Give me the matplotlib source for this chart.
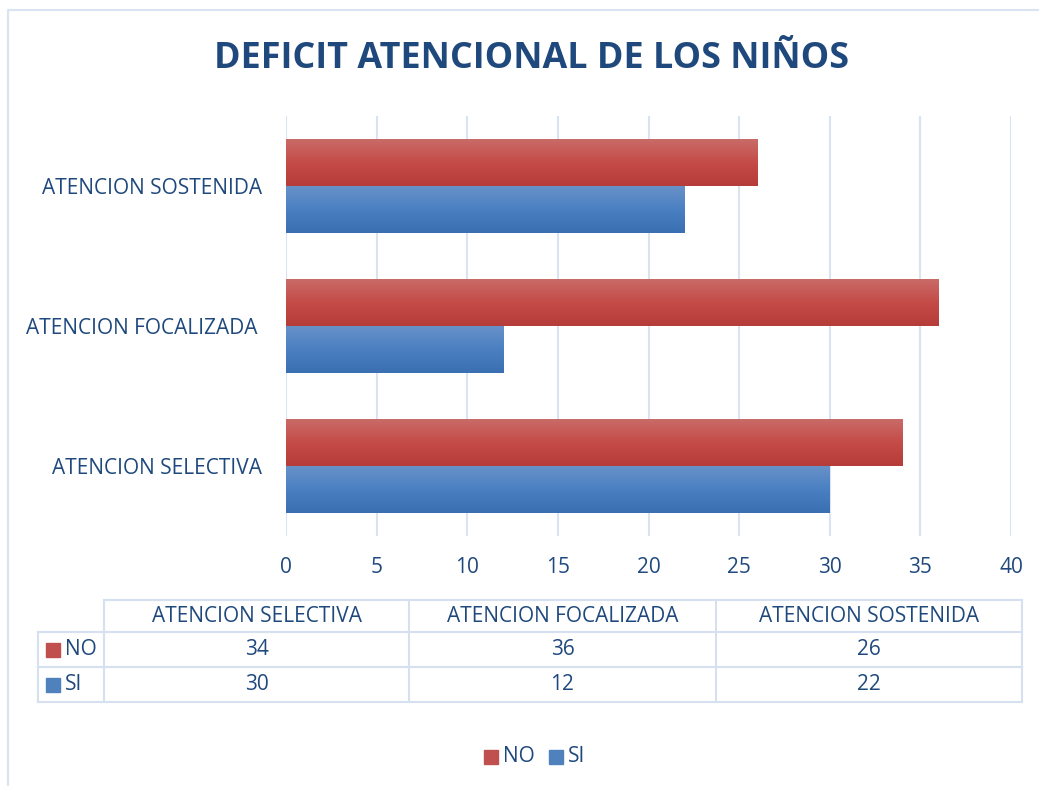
import numpy as np
import matplotlib
matplotlib.use('Agg')
import matplotlib.pyplot as plt
from matplotlib.patches import Rectangle
from matplotlib.lines import Line2D
from matplotlib.colors import LinearSegmentedColormap

# data
categories = ['ATENCION SELECTIVA', 'ATENCION FOCALIZADA', 'ATENCION SOSTENIDA']
ytick_labels = ['ATENCION SELECTIVA', 'ATENCION FOCALIZADA ', 'ATENCION SOSTENIDA']
series_names = ['NO', 'SI']
no_vals = [34, 36, 26]
si_vals = [30, 12, 22]
xticks = [0, 5, 10, 15, 20, 25, 30, 35, 40]
title = 'DEFICIT ATENCIONAL DE LOS NIÑOS'

W, H = 1039, 786
TXT = '#1F497D'
GRID = '#D9E4F3'
RED = '#C0504D'
BLUE = '#4F81BD'
FS = 15

plt.rcParams['font.family'] = ['Open Sans', 'DejaVu Sans']

fig = plt.figure(figsize=(W / 100, H / 100), dpi=100)


def fx(px):
    return px / W


def fy(py):
    return 1 - py / H


# outer frame (left and top edges only visible)
fig.add_artist(Line2D([fx(8), fx(8), fx(1039)], [fy(786), fy(10), fy(10)],
                      transform=fig.transFigure, color=GRID, lw=1.5))

fig.text(fx(531), fy(59), title, ha='center', va='center', fontsize=25.8,
         fontweight='bold', color=TXT)

ax = fig.add_axes([fx(286), fy(536), fx(1011) - fx(286), fy(116) - fy(536)])
y = np.arange(len(categories))
h = 0.335
bars_no = ax.barh(y + h / 2, no_vals, h, color=RED)
bars_si = ax.barh(y - h / 2, si_vals, h, color=BLUE)

# vertical gradient on the bars
red_cm = LinearSegmentedColormap.from_list('r', ['#B63C3A', '#C44B48', '#C96B68'])
blue_cm = LinearSegmentedColormap.from_list('b', ['#3A6FB1', '#4A80C2', '#6891C8'])
grad = np.linspace(0, 1, 100).reshape(-1, 1)
for bars, cm in ((bars_no, red_cm), (bars_si, blue_cm)):
    for b in bars:
        x0, y0 = b.get_x(), b.get_y()
        im = ax.imshow(grad, cmap=cm, origin='lower', aspect='auto',
                       extent=[x0, x0 + b.get_width(), y0, y0 + b.get_height()],
                       zorder=b.get_zorder(), interpolation='bilinear')
        im.set_clip_path(b)
        b.set_facecolor('none')

ax.set_xlim(0, 40)
ax.set_ylim(-0.5, 2.5)
ax.set_xticks(xticks)
ax.set_xticklabels([str(t) for t in xticks])
ax.set_yticks(y)
ax.set_yticklabels(ytick_labels)
ax.grid(axis='x', color=GRID, lw=1.5)
ax.set_axisbelow(True)
for s in ax.spines.values():
    s.set_visible(False)
ax.tick_params(axis='both', length=0, labelsize=FS, labelcolor=TXT)
ax.tick_params(axis='x', pad=15)
ax.tick_params(axis='y', pad=17)

# data table under the chart
col_x = [104, 409, 716, 1022]
row_y = [600, 632, 667, 702]
label_x = 38
TB = '#D5E1F1'


def hline(py, x0, x1):
    fig.add_artist(Line2D([fx(x0), fx(x1)], [fy(py), fy(py)],
                          transform=fig.transFigure, color=TB, lw=1.5))


def vline(px, y0, y1):
    fig.add_artist(Line2D([fx(px), fx(px)], [fy(y0), fy(y1)],
                          transform=fig.transFigure, color=TB, lw=1.5))


hline(row_y[0], col_x[0], col_x[-1])
for ry in row_y[1:]:
    hline(ry, label_x, col_x[-1])
vline(label_x, row_y[1], row_y[-1])
for cx in col_x:
    vline(cx, row_y[0], row_y[-1])

for i, cat in enumerate(categories):
    cx = (col_x[i] + col_x[i + 1]) / 2
    fig.text(fx(cx), fy((row_y[0] + row_y[1]) / 2), cat, ha='center',
             va='center', fontsize=FS, color=TXT)

table_rows = [(series_names[0], no_vals, RED), (series_names[1], si_vals, BLUE)]
for r, (name, vals, col) in enumerate(table_rows):
    cy = (row_y[r + 1] + row_y[r + 2]) / 2
    fig.add_artist(Rectangle((fx(46), fy(cy + 7)), fx(14), 14 / H,
                             transform=fig.transFigure, color=col))
    fig.text(fx(65), fy(cy), name, ha='left', va='center', fontsize=FS, color=TXT)
    for i, v in enumerate(vals):
        cx = (col_x[i] + col_x[i + 1]) / 2
        fig.text(fx(cx), fy(cy), str(v), ha='center', va='center',
                 fontsize=FS, color=TXT)

# legend at the bottom
for lx, name, col in ((484, series_names[0], RED), (549, series_names[1], BLUE)):
    fig.add_artist(Rectangle((fx(lx), fy(764)), fx(14), 14 / H,
                             transform=fig.transFigure, color=col))
    fig.text(fx(lx + 19), fy(757), name, ha='left', va='center',
             fontsize=FS, color=TXT)

fig.savefig('out.png', dpi=100)
